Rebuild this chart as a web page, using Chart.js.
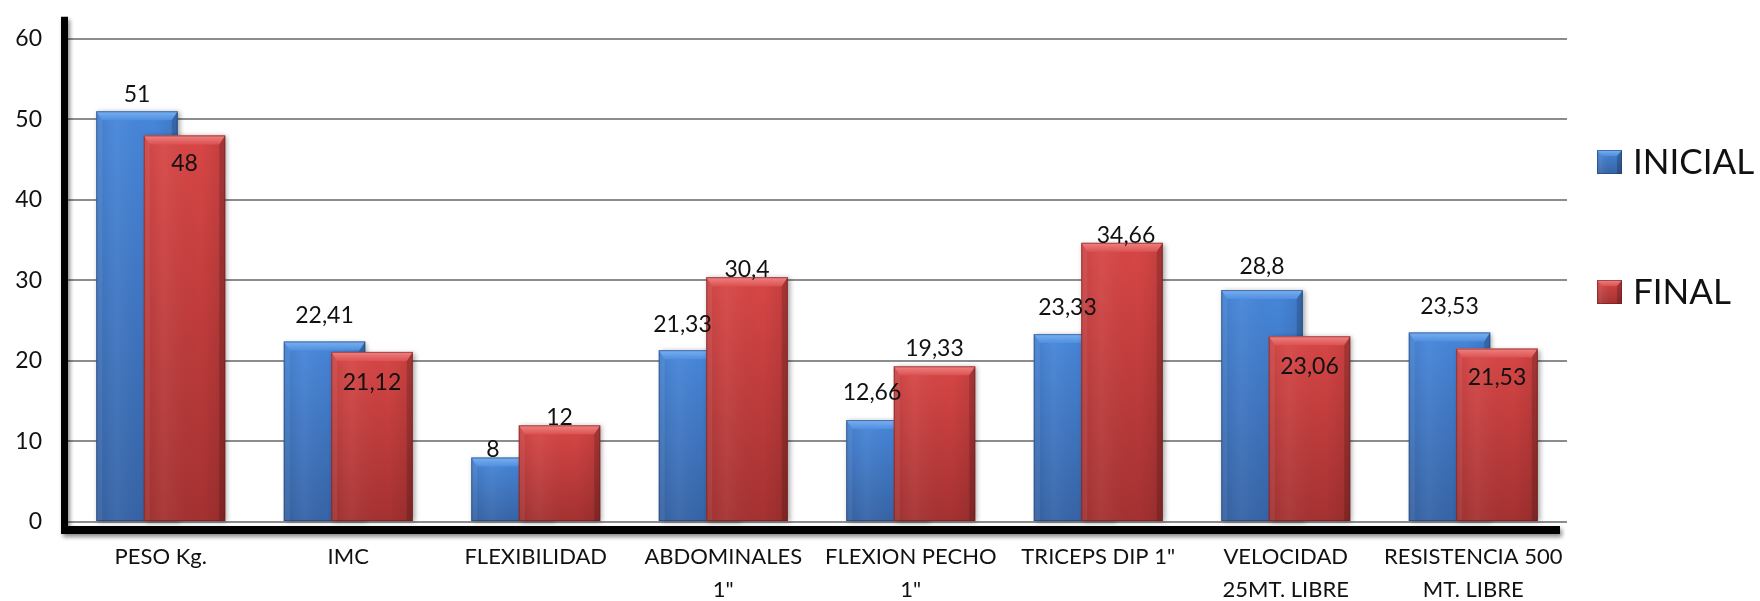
<!DOCTYPE html>
<html>
<head>
<meta charset="utf-8">
<script src="https://cdn.jsdelivr.net/npm/chart.js@4.4.1/dist/chart.umd.min.js"></script>
<style>
  html, body { margin: 0; padding: 0; background: #ffffff; }
  #wrap { width: 1760px; height: 601px; }
</style>
</head>
<body>
<div id="wrap"><canvas id="chart" width="1760" height="601"></canvas></div>
<script>
// Test categories (multi-line labels as arrays)
const categories = [
  ['PESO Kg.'],
  ['IMC'],
  ['FLEXIBILIDAD'],
  ['ABDOMINALES', '1"'],
  ['FLEXION PECHO', '1"'],
  ['TRICEPS DIP 1"'],
  ['VELOCIDAD', '25MT. LIBRE'],
  ['RESISTENCIA 500', 'MT. LIBRE']
];
const seriesNames = ['INICIAL', 'FINAL'];
const inicialValues = [51, 22.41, 8, 21.33, 12.66, 23.33, 28.8, 23.53];
const finalValues = [48, 21.12, 12, 30.4, 19.33, 34.66, 23.06, 21.53];
const yTicks = [0, 10, 20, 30, 40, 50, 60];

// Per-series bevel palettes
const palettes = [
  { face: '#3f7dcf', top: '#4686da', bottom: '#3563a6', bevelA: '#7ab0f2', bevelB: '#4f8fde', edge: 'rgba(30,60,110,0.55)' },
  { face: '#cf4141', top: '#d84646', bottom: '#a53131', bevelA: '#f08282', bevelB: '#dc5252', edge: 'rgba(110,25,25,0.55)' }
];

// Where each value label sits: [dx, dy] from the bar's top centre
const labelPlacement = [
  [[0, -17], [0, -26], [-19, -8], [-17, -26], [-15, -27], [-7, -27], [0, -23], [0, -26]],
  [[0, 28], [0, 31], [0, -8], [0, -8], [0, -18], [4, -7], [0, 30], [0, 29]]
];

const FONT = 'Lato';

function fmt(v) { return String(v).replace('.', ','); }

function bevelRect(ctx, left, top, right, bottom, pal, bt, bs, shadow) {
  const w = right - left, h = bottom - top;
  if (w <= 0 || h <= 0) return;
  bt = Math.min(bt, h / 2);
  bs = Math.min(bs, w / 2);
  ctx.save();
  if (shadow) {
    ctx.shadowColor = 'rgba(0,0,0,0.35)';
    ctx.shadowBlur = 5;
    ctx.shadowOffsetX = 2;
    ctx.shadowOffsetY = 1;
  }
  const g = ctx.createLinearGradient(0, top, 0, bottom);
  g.addColorStop(0, pal.top);
  g.addColorStop(1, pal.bottom);
  ctx.fillStyle = g;
  ctx.fillRect(left, top, w, h);
  ctx.restore();

  ctx.save();
  // horizontal sheen across the face
  const hg = ctx.createLinearGradient(left, 0, right, 0);
  hg.addColorStop(0, 'rgba(0,0,0,0.06)');
  hg.addColorStop(0.25, 'rgba(255,255,255,0.05)');
  hg.addColorStop(0.7, 'rgba(0,0,0,0)');
  hg.addColorStop(1, 'rgba(0,0,0,0.10)');
  ctx.fillStyle = hg;
  ctx.fillRect(left, top, w, h);

  // top bevel
  const tg = ctx.createLinearGradient(0, top, 0, top + bt);
  tg.addColorStop(0, pal.bevelA);
  tg.addColorStop(1, pal.bevelB);
  ctx.fillStyle = tg;
  ctx.beginPath();
  ctx.moveTo(left, top);
  ctx.lineTo(right, top);
  ctx.lineTo(right - bs, top + bt);
  ctx.lineTo(left + bs, top + bt);
  ctx.closePath();
  ctx.fill();

  // left bevel
  ctx.fillStyle = 'rgba(255,255,255,0.07)';
  ctx.beginPath();
  ctx.moveTo(left, top);
  ctx.lineTo(left + bs, top + bt);
  ctx.lineTo(left + bs, bottom);
  ctx.lineTo(left, bottom);
  ctx.closePath();
  ctx.fill();

  // right bevel
  ctx.fillStyle = 'rgba(0,0,0,0.16)';
  ctx.beginPath();
  ctx.moveTo(right, top);
  ctx.lineTo(right - bs, top + bt);
  ctx.lineTo(right - bs, bottom);
  ctx.lineTo(right, bottom);
  ctx.closePath();
  ctx.fill();

  // thin outline
  ctx.strokeStyle = pal.edge;
  ctx.lineWidth = 1;
  ctx.strokeRect(left + 0.5, top + 0.5, w - 1, h - 1);
  ctx.restore();
}

const beveledBars = {
  id: 'beveledBars',
  beforeDatasetsDraw(chart) {
    // heavy black axis frame (left and bottom) with a soft shadow
    const { ctx, chartArea: ca } = chart;
    ctx.save();
    ctx.shadowColor = 'rgba(0,0,0,0.45)';
    ctx.shadowBlur = 4;
    ctx.shadowOffsetX = 2;
    ctx.shadowOffsetY = 3;
    ctx.fillStyle = '#000000';
    ctx.beginPath();
    ctx.rect(ca.left - 6, ca.top - 22, 7, ca.bottom - ca.top + 34);
    ctx.rect(ca.left - 6, ca.bottom + 4, ca.right - 7 - (ca.left - 6), 8);
    ctx.fill();
    ctx.restore();
  },
  beforeDatasetDraw() {
    return false;
  },
  afterDatasetsDraw(chart) {
    const ctx = chart.ctx;
    // bars in dataset order so FINAL overlaps INICIAL
    chart.data.datasets.forEach((ds, di) => {
      const meta = chart.getDatasetMeta(di);
      meta.data.forEach(el => {
        const p = el.getProps(['x', 'y', 'base', 'width'], true);
        const left = p.x - p.width / 2, right = p.x + p.width / 2;
        const top = Math.min(p.y, p.base), bottom = Math.max(p.y, p.base);
        bevelRect(ctx, left, top, right, bottom, palettes[di], 9, 6, true);
      });
    });
    // value labels
    ctx.save();
    ctx.fillStyle = '#111111';
    ctx.font = '23px ' + FONT;
    ctx.textAlign = 'center';
    ctx.textBaseline = 'middle';
    chart.data.datasets.forEach((ds, di) => {
      const meta = chart.getDatasetMeta(di);
      meta.data.forEach((el, i) => {
        const p = el.getProps(['x', 'y'], true);
        const [dx, dy] = labelPlacement[di][i];
        ctx.fillText(fmt(ds.data[i]), p.x + dx, p.y + dy);
      });
    });
    ctx.restore();
  },
  afterDraw(chart) {
    // legend on the right
    const { ctx, chartArea: ca } = chart;
    const rows = [162, 292];
    ctx.save();
    chart.data.datasets.forEach((ds, di) => {
      const cy = rows[di];
      const x0 = ca.right + 30;
      bevelRect(ctx, x0, cy - 12, x0 + 25, cy + 12, palettes[di], 6, 5, false);
      ctx.fillStyle = '#111111';
      ctx.font = '35px ' + FONT;
      ctx.textAlign = 'left';
      ctx.textBaseline = 'middle';
      ctx.fillText(ds.label, ca.right + 66, cy + 1);
    });
    ctx.restore();
  }
};

new Chart(document.getElementById('chart'), {
  type: 'bar',
  data: {
    labels: categories,
    datasets: [
      { label: seriesNames[0], data: inicialValues, backgroundColor: palettes[0].face },
      { label: seriesNames[1], data: finalValues, backgroundColor: palettes[1].face }
    ]
  },
  options: {
    responsive: false,
    animation: false,
    devicePixelRatio: 1,
    layout: { padding: { top: 35, right: 193, left: 0, bottom: 0 } },
    datasets: { bar: { categoryPercentage: 0.5067, barPercentage: 1.716 } },
    plugins: { legend: { display: false }, tooltip: { enabled: false } },
    scales: {
      x: {
        grid: { display: false, drawTicks: false, tickLength: 0 },
        border: { display: false },
        ticks: {
          autoSkip: false, maxRotation: 0, minRotation: 0, padding: 18,
          color: '#111111',
          font: { family: FONT, size: 22, lineHeight: 1.5 }
        },
        afterFit(scale) { scale.height = 79; }
      },
      y: {
        min: 0, max: 60,
        grid: { color: '#8c8c8c', lineWidth: 2, drawTicks: false, tickLength: 0 },
        border: { display: false },
        ticks: { padding: 25, color: '#111111', font: { family: FONT, size: 23 } },
        afterBuildTicks(scale) { scale.ticks = yTicks.map(v => ({ value: v })); },
        afterFit(scale) { scale.width = 67; }
      }
    }
  },
  plugins: [beveledBars]
});
</script>
</body>
</html>
